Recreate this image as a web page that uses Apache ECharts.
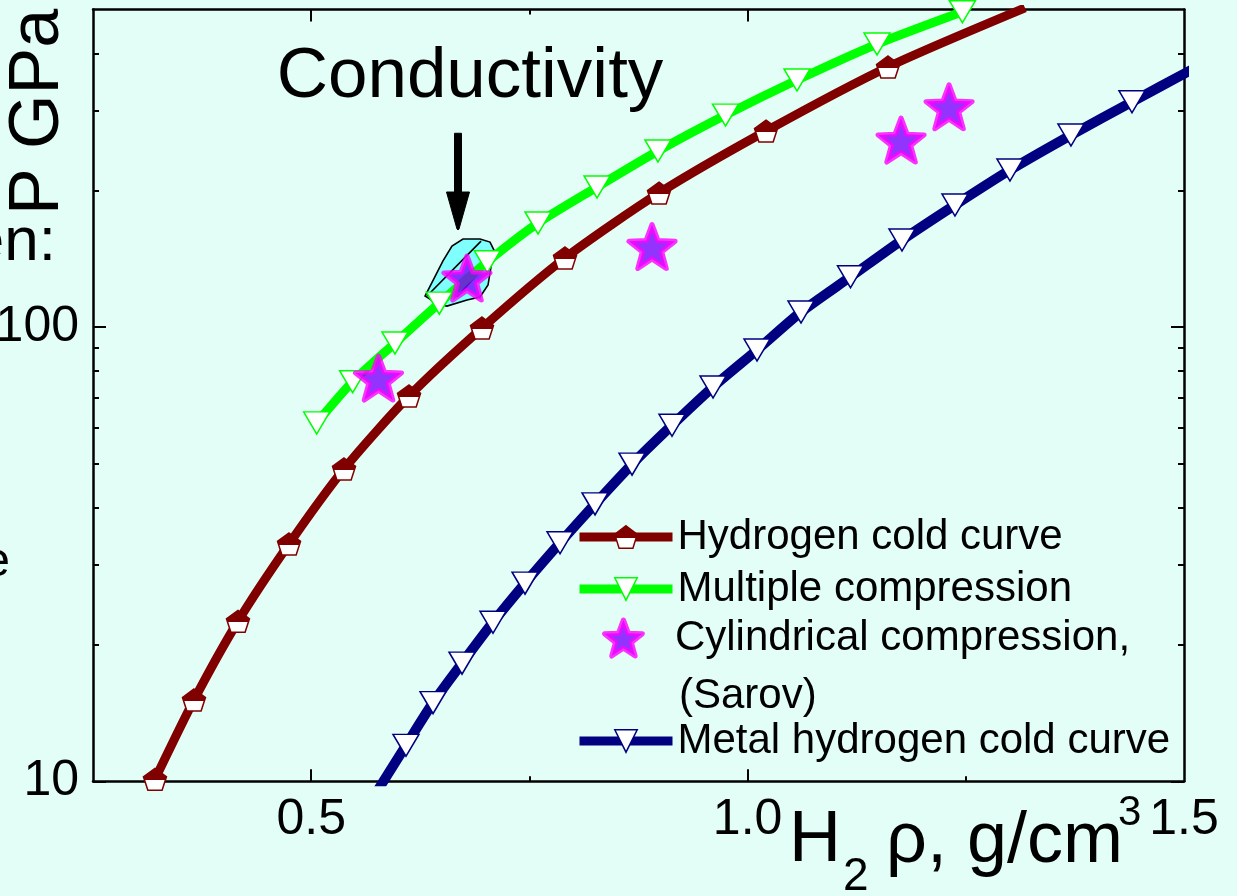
<!DOCTYPE html>
<html>
<head>
<meta charset="utf-8">
<script src="https://cdn.jsdelivr.net/npm/echarts@6/dist/echarts.min.js"></script>
<style>
  html, body { margin: 0; padding: 0; background: #E2FEF7; }
  #chart { width: 1237px; height: 896px; }
</style>
</head>
<body>
<div id="chart"></div>
<script>
// Hydrogen cold curve: density (g/cm^3) and pressure (GPa)
const coldRho = [0.321, 0.3657, 0.4161, 0.4746, 0.5376, 0.6121, 0.6957, 0.7908, 0.8985, 1.0211, 1.1609, 1.3178];
const coldP   = [10.1, 15.1, 22.5, 33.3, 48.7, 70.5, 99.5, 141.9, 197.2, 270, 373.6, 503.9];

// Multiple shock compression
const multiRho = [0.5063, 0.5475, 0.596, 0.6468, 0.7018, 0.7599, 0.8275, 0.8973, 0.9747, 1.0566, 1.1483, 1.2461];
const multiP   = [61.5, 75.8, 92.2, 112.9, 139.2, 169.4, 203.3, 244.0, 292.8, 349.7, 419.7, 494.3];

// Cylindrical compression experiments (Sarov)
const sarovRho = [0.5771, 0.6785, 0.8905, 1.1758, 1.2308];
const sarovP   = [77.2, 128.2, 150.4, 257.9, 305.4];

// Metal hydrogen cold curve
const metalRho = [0.5765, 0.6086, 0.6396, 0.6728, 0.7083, 0.745, 0.7851, 0.8252, 0.8676, 0.9134, 0.9604,
                  1.0108, 1.0612, 1.1179, 1.1769, 1.2376, 1.3006, 1.3705, 1.4404, 1.5122];
const metalP   = [9.57, 12.0, 14.9, 18.2, 22.4, 27.3, 33.5, 40.8, 49.9, 60.8, 73.8,
                  89.0, 107.9, 129.0, 155.4, 185.6, 221.6, 264.6, 313.2, 371.6];

// Region where conductivity was observed (outline and hatch strokes)
const condRho = [0.6304, 0.6510, 0.6613, 0.6739, 0.6934, 0.7049, 0.7094, 0.7060, 0.7026, 0.6934, 0.6785, 0.6556, 0.6453];
const condP   = [117.0, 139.8, 150.8, 156.2, 156.2, 153.8, 147.7, 135.6, 123.7, 116.4, 114.7, 111.2, 112.3];
const hatchRho = [[0.6327, 0.6946], [0.6670, 0.7071]];
const hatchP   = [[117.0, 154.6], [116.5, 141.9]];

// Arrow pointing at the conductivity region
const arrowRho = 0.6682;
const arrowFromP = 267;
const arrowToP = 163.5;

// Axis ticks and labels
const xMajorTicks = [0.5, 1.0];
const xMinorTicks = [0.75, 1.25];
const xLabelValues = [0.5, 1.0, 1.5];
const yMajorTicks = [10, 100];
const yMinorTicks = [20, 30, 40, 50, 60, 70, 80, 90, 200, 300, 400];
const yLabelValues = [10, 100];

const FONT = "'Liberation Sans', Arial, Helvetica, sans-serif";
const DARK_RED = '#800000';
const GREEN = '#00FF00';
const NAVY = '#000080';
const STAR_FILL = '#8000FF';
const STAR_EDGE = '#FF00FF';

const pair = (xs, ys) => xs.map((x, i) => [x, ys[i]]);

// Marker shapes
const PENTAGON = 'path://M10,0L19.51,6.91L15.88,18.09L4.12,18.09L0.49,6.91Z';
const TRI_DOWN = 'path://M0,0L26,0L13,22Z';
const STAR = 'path://M50,0L62.34,33.01L97.55,34.55L69.97,56.49L79.39,90.45L50,71L20.61,90.45L30.03,56.49L2.45,34.55L37.66,33.01Z';

// Pentagon: dark roof, white body
const pentFill = {
  type: 'linear', x: 0, y: 0, x2: 0, y2: 1,
  colorStops: [
    { offset: 0, color: DARK_RED },
    { offset: 0.54, color: DARK_RED },
    { offset: 0.54, color: '#FFFFFF' },
    { offset: 1, color: '#FFFFFF' }
  ]
};

const axisLineStyle = { color: '#000', width: 2.5 };
const tickLineStyle = { color: '#000', width: 2 };

function xAxisDef(position, ticks, len, showLine, labels) {
  return {
    type: 'value', position: position, min: 0.25, max: 1.5, interval: 0.25,
    axisLine: { show: showLine, onZero: false, lineStyle: axisLineStyle },
    axisTick: { show: true, inside: true, length: len, customValues: ticks, lineStyle: tickLineStyle },
    axisLabel: labels ? {
      show: true, customValues: labels, formatter: v => Number(v).toFixed(1),
      fontSize: 50, fontFamily: FONT, color: '#000', margin: 14, lineHeight: 50
    } : { show: false },
    splitLine: { show: false }
  };
}

function yAxisDef(position, ticks, len, showLine, labels) {
  return {
    type: 'log', logBase: 10, position: position, min: 10, max: 500,
    axisLine: { show: showLine, onZero: false, lineStyle: axisLineStyle },
    axisTick: { show: true, inside: true, length: len, customValues: ticks, lineStyle: tickLineStyle },
    axisLabel: labels ? {
      show: true, customValues: labels, formatter: v => String(Math.round(v)),
      fontSize: 50, fontFamily: FONT, color: '#000', margin: 14
    } : { show: false },
    splitLine: { show: false }
  };
}

function legendDef(name, left, top, itemHeight, itemStyle, lineStyle) {
  const item = { name: name, itemStyle: itemStyle };
  if (lineStyle) item.lineStyle = lineStyle;
  return {
    data: [item], left: left, top: top, orient: 'vertical', padding: 0,
    itemWidth: 93, itemHeight: itemHeight, itemGap: 0, itemTextGap: 11,
    selectedMode: false,
    textStyle: { fontSize: 42, fontFamily: FONT, color: '#000', lineHeight: 42 }
  };
}

const chart = echarts.init(document.getElementById('chart'), null, { renderer: 'canvas' });

const option = {
  animation: false,
  backgroundColor: '#E2FEF7',
  grid: { left: 93, right: 53, top: 9.5, bottom: 114.7, containLabel: false, outerBoundsMode: 'none' },
  xAxis: [
    xAxisDef('bottom', xMajorTicks, 12, true, xLabelValues),
    xAxisDef('top', xMajorTicks, 12, true, null),
    xAxisDef('bottom', xMinorTicks, 5, false, null),
    xAxisDef('top', xMinorTicks, 5, false, null)
  ],
  yAxis: [
    yAxisDef('left', yMajorTicks, 13, true, yLabelValues),
    yAxisDef('right', yMajorTicks, 13, true, null),
    yAxisDef('left', yMinorTicks, 6, false, null),
    yAxisDef('right', yMinorTicks, 6, false, null)
  ],
  legend: [
    legendDef('Hydrogen cold curve', 575, 516, 28,
      { color: pentFill, borderColor: DARK_RED, borderWidth: 1.5 }, { color: DARK_RED, width: 9 }),
    legendDef('Multiple compression', 575, 568, 28,
      { color: '#FFFFFF', borderColor: GREEN, borderWidth: 1.5 }, { color: GREEN, width: 9 }),
    legendDef('Cylindrical compression,', 602, 617, 36,
      { color: STAR_FILL, borderColor: STAR_EDGE, borderWidth: 5, borderJoin: 'round' }, null),
    legendDef('Metal hydrogen cold curve', 575, 720, 28,
      { color: '#FFFFFF', borderColor: NAVY, borderWidth: 1.5 }, { color: NAVY, width: 9 })
  ],
  series: [
    {
      // conductivity region
      type: 'custom', name: 'conductivity', coordinateSystem: 'cartesian2d',
      xAxisIndex: 0, yAxisIndex: 0, z: 1, silent: true,
      data: [[condRho[0], condP[0]]],
      renderItem: (params, api) => {
        const pts = condRho.map((r, i) => api.coord([r, condP[i]]));
        const children = [{
          type: 'polygon', shape: { points: pts },
          style: { fill: '#80FFFF', stroke: '#000', lineWidth: 1.6 }
        }];
        hatchRho.forEach((rs, k) => {
          const a = api.coord([rs[0], hatchP[k][0]]);
          const b = api.coord([rs[1], hatchP[k][1]]);
          children.push({
            type: 'line', shape: { x1: a[0], y1: a[1], x2: b[0], y2: b[1] },
            style: { stroke: '#000', lineWidth: 1.6 }
          });
        });
        return { type: 'group', children: children };
      }
    },
    {
      // arrow marking the conductivity region
      type: 'custom', name: 'arrow', coordinateSystem: 'cartesian2d',
      xAxisIndex: 0, yAxisIndex: 0, z: 5, silent: true,
      data: [[arrowRho, arrowFromP]],
      renderItem: (params, api) => {
        const top = api.coord([arrowRho, arrowFromP]);
        const tip = api.coord([arrowRho, arrowToP]);
        const x = top[0];
        const headTop = tip[1] - 38;
        return {
          type: 'polygon',
          shape: { points: [
            [x - 3.5, top[1]], [x + 3.5, top[1]], [x + 3.5, headTop], [x + 11.5, headTop],
            [x + 1, tip[1] - 1], [x, tip[1]], [x - 1, tip[1] - 1],
            [x - 11.5, headTop], [x - 3.5, headTop]
          ] },
          style: { fill: '#000', stroke: '#000', lineWidth: 1, lineJoin: 'round' }
        };
      }
    },
    {
      type: 'line', name: 'Hydrogen cold curve', xAxisIndex: 0, yAxisIndex: 0, z: 3,
      data: pair(coldRho, coldP), smooth: 0.25, clip: true,
      symbol: PENTAGON, symbolSize: [23, 22], showAllSymbol: true,
      lineStyle: { color: DARK_RED, width: 9 },
      itemStyle: { color: pentFill, borderColor: DARK_RED, borderWidth: 1.5 }
    },
    {
      type: 'line', name: 'Multiple compression', xAxisIndex: 0, yAxisIndex: 0, z: 3,
      data: pair(multiRho, multiP), smooth: 0.25, clip: true,
      symbol: TRI_DOWN, symbolSize: [26, 22], showAllSymbol: true,
      lineStyle: { color: GREEN, width: 9 },
      itemStyle: { color: '#FFFFFF', borderColor: GREEN, borderWidth: 1.5 }
    },
    {
      type: 'line', name: 'Metal hydrogen cold curve', xAxisIndex: 0, yAxisIndex: 0, z: 3,
      data: pair(metalRho, metalP), smooth: 0.25, clip: true,
      symbol: TRI_DOWN, symbolSize: [26, 22], showAllSymbol: true,
      lineStyle: { color: NAVY, width: 10 },
      itemStyle: { color: '#FFFFFF', borderColor: NAVY, borderWidth: 1.5 }
    },
    {
      type: 'scatter', name: 'Cylindrical compression,', xAxisIndex: 0, yAxisIndex: 0, z: 4,
      data: pair(sarovRho, sarovP),
      symbol: STAR, symbolSize: [46, 44],
      itemStyle: { color: STAR_FILL, borderColor: STAR_EDGE, borderWidth: 5, borderJoin: 'round' }
    }
  ],
  graphic: [
    { type: 'text', x: 470, y: 77, silent: true,
      style: { text: 'Conductivity', fontSize: 71, fontFamily: FONT, fill: '#000', align: 'center', verticalAlign: 'middle' } },
    { type: 'text', x: 39, y: 112, rotation: Math.PI / 2, silent: true,
      style: { text: 'P GPa', fontSize: 70, fontFamily: FONT, fill: '#000', align: 'center', verticalAlign: 'middle' } },
    { type: 'text', x: 56, y: 243, silent: true,
      style: { text: 'en:', fontSize: 62, fontFamily: FONT, fill: '#000', align: 'right', verticalAlign: 'middle' } },
    { type: 'text', x: 10, y: 563, silent: true,
      style: { text: 'e', fontSize: 48, fontFamily: FONT, fill: '#000', align: 'right', verticalAlign: 'middle' } },
    { type: 'text', x: 679, y: 696, silent: true,
      style: { text: '(Sarov)', fontSize: 42, fontFamily: FONT, fill: '#000', align: 'left', verticalAlign: 'middle' } },
    // x axis title: H2 ρ, g/cm3
    { type: 'text', x: 789, y: 841, silent: true,
      style: { text: 'H', fontSize: 72, fontFamily: FONT, fill: '#000', align: 'left', verticalAlign: 'middle' } },
    { type: 'text', x: 843, y: 877, silent: true,
      style: { text: '2', fontSize: 46, fontFamily: FONT, fill: '#000', align: 'left', verticalAlign: 'middle' } },
    { type: 'text', x: 886, y: 842, silent: true,
      style: { text: 'ρ, g/cm', fontSize: 72, fontFamily: FONT, fill: '#000', align: 'left', verticalAlign: 'middle' } },
    { type: 'text', x: 1118, y: 813.5, silent: true,
      style: { text: '3', fontSize: 42, fontFamily: FONT, fill: '#000', align: 'left', verticalAlign: 'middle' } }
  ]
};

chart.setOption(option);
</script>
</body>
</html>
